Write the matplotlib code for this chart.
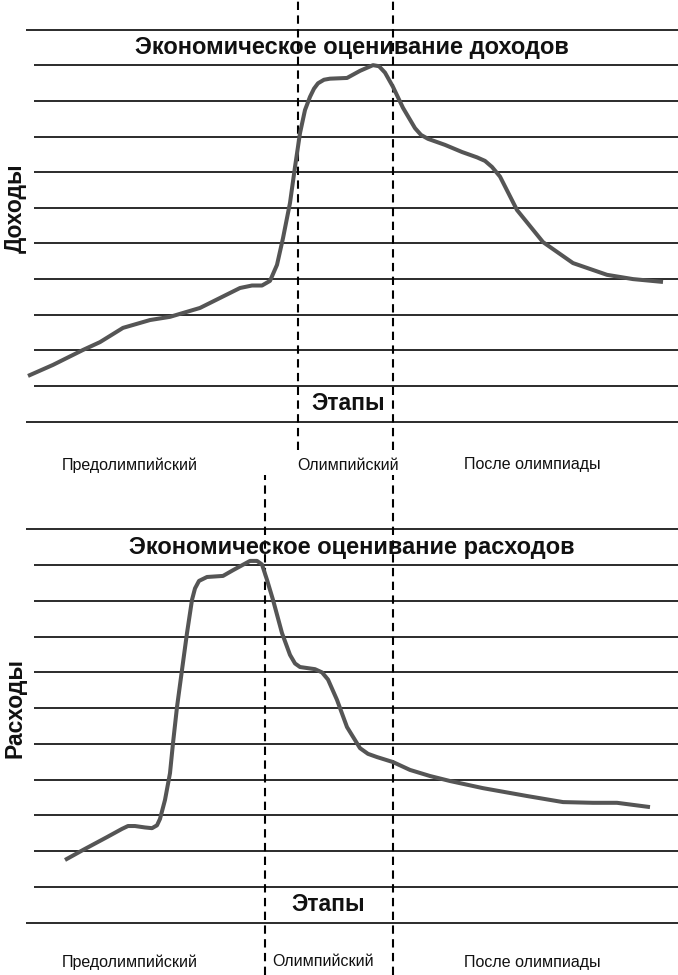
import matplotlib
matplotlib.use("Agg")
import matplotlib.pyplot as plt

# stage labels and titles
stages = ["Предолимпийский", "Олимпийский", "После олимпиады"]
title_income = "Экономическое оценивание доходов"
title_cost = "Экономическое оценивание расходов"
ylabel_income = "Доходы"
ylabel_cost = "Расходы"
xlabel = "Этапы"

# time axis (arbitrary units across the page) and levels in grid steps
income_t = [28, 53, 83, 100, 123, 150, 170, 200, 220, 240, 252, 262, 270, 277,
            283, 290, 295, 300, 305, 310, 314, 318, 324, 330, 347, 360, 373,
            379, 385, 393, 403, 415, 421, 428, 445, 462, 477, 485, 492, 500,
            517, 543, 573, 607, 633, 663]
income_v = [1.28, 1.59, 2.01, 2.23, 2.63, 2.85, 2.94, 3.19, 3.47, 3.75, 3.82,
            3.82, 3.95, 4.40, 5.15, 6.14, 7.15, 8.10, 8.75, 9.12, 9.35, 9.50,
            9.60, 9.63, 9.65, 9.85, 10.01, 9.98, 9.80, 9.40, 8.81, 8.24, 8.05,
            7.94, 7.77, 7.57, 7.42, 7.32, 7.15, 6.88, 5.94, 5.04, 4.45, 4.12,
            4.00, 3.92]

cost_t = [65, 83, 107, 122, 128, 135, 145, 152, 157, 160, 165, 170, 173, 177,
          182, 187, 192, 195, 199, 207, 223, 233, 250, 257, 262, 267, 273, 282,
          290, 295, 300, 315, 322, 328, 337, 347, 360, 368, 377, 393, 410, 430,
          450, 483, 527, 563, 593, 617, 650]
cost_v = [1.75, 2.03, 2.39, 2.62, 2.70, 2.70, 2.66, 2.64, 2.72, 2.90, 3.43,
          4.18, 5.02, 6.03, 7.07, 8.10, 9.03, 9.35, 9.56, 9.67, 9.70, 9.86,
          10.12, 10.12, 10.02, 9.59, 9.03, 8.10, 7.49, 7.25, 7.15, 7.09, 7.00,
          6.80, 6.23, 5.47, 4.88, 4.72, 4.63, 4.49, 4.27, 4.10, 3.96, 3.76,
          3.54, 3.37, 3.35, 3.35, 3.23]

# stage boundaries
income_bounds = [298, 393]
cost_bounds = [265, 393]

levels = list(range(12))

bold = ["Liberation Sans", "DejaVu Sans"]
narrow = ["Liberation Sans Narrow", "Liberation Sans", "DejaVu Sans"]

fig = plt.figure(figsize=(6.78, 9.75), dpi=100)
W = 678.0
H = 975.0


def panel(ax, t, v, bounds, title, ylab, xlab_x, dash_top, dash_bot,
          stage_y, stage_x):
    ax.set_xlim(0, W)
    ax.axis("off")
    # grid of horizontal lines
    ax.hlines([levels[0], levels[-1]], 26, W, color="#2b2b2b", lw=1.4)
    ax.hlines(levels[1:-1], 34, W, color="#2b2b2b", lw=1.4)
    for b in bounds:
        ax.plot([b, b], [dash_bot, dash_top], color="black", lw=1.5,
                ls=(0, (4, 2.6)))
    ax.plot(t, v, color="#555555", lw=2.9, solid_joinstyle="round",
            solid_capstyle="butt")
    ax.text(352, 10.5, title, ha="center", va="center", fontsize=17,
            fontweight="bold", family=bold, color="#111111")
    ax.text(xlab_x, 0.5, xlabel, ha="center", va="center", fontsize=16.5,
            fontweight="bold", family=bold, color="#111111")
    ax.text(15, 6.0, ylab, ha="center", va="center", rotation=90,
            fontsize=16.5, fontweight="bold", family=bold, color="#111111")
    for s, x in zip(stages, stage_x):
        ax.text(x, stage_y, s, ha="center", va="center", fontsize=11.5,
                family=narrow, color="#111111")


# top panel: pixel rows 0..475, grid 421.5 (level 0) step 35.6
ax1 = fig.add_axes([0, 1 - 475 / H, 1, 475 / H])
ax1.set_ylim((421.5 - 475) / 35.6, 421.5 / 35.6)
panel(ax1, income_t, income_v, income_bounds, title_income, ylabel_income,
      348, 421.5 / 35.6, (421.5 - 450) / 35.6, (421.5 - 465) / 35.6,
      [130, 348, 532])

# bottom panel: pixel rows 475..975, grid 922.5 (level 0) step 35.73
ax2 = fig.add_axes([0, 0, 1, 500 / H])
ax2.set_ylim((922.5 - 975) / 35.73, (922.5 - 475) / 35.73)
panel(ax2, cost_t, cost_v, cost_bounds, title_cost, ylabel_cost,
      328, (922.5 - 475) / 35.73, (922.5 - 975) / 35.73,
      (922.5 - 962) / 35.73, [130, 323, 532])

fig.savefig("out.png", dpi=100)
